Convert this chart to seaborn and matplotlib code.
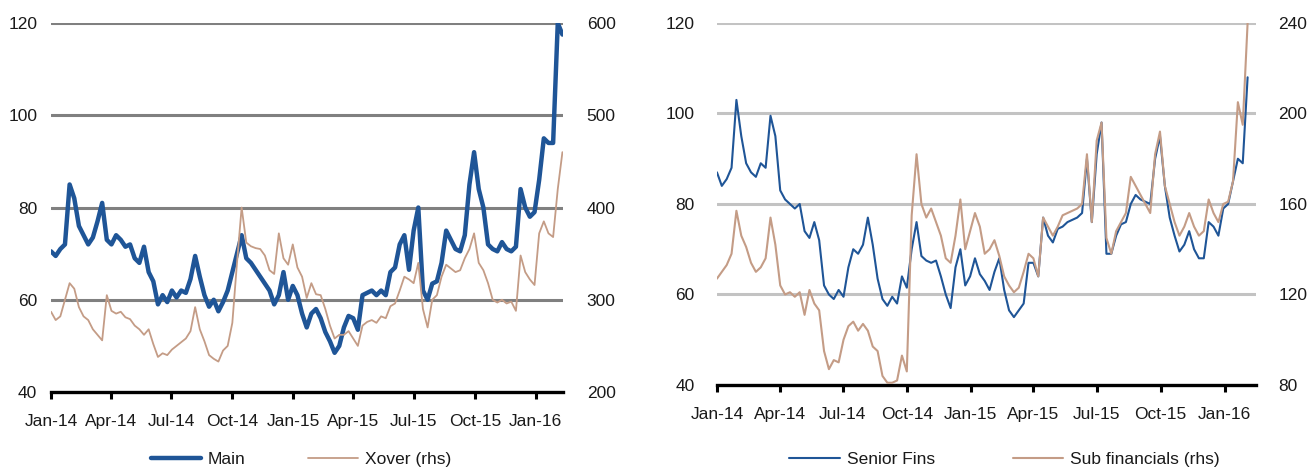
import matplotlib
matplotlib.use("Agg")
import matplotlib.pyplot as plt
import matplotlib.dates as mdates
import numpy as np
import pandas as pd
import seaborn as sns

# Weekly observations, Jan 2014 - Feb 2016
dates = pd.date_range("2014-01-01", periods=111, freq="7D")

# iTraxx Main (bp, lhs)
main = [70.5, 69.5, 71, 72, 85, 82, 76, 74, 72, 73.5, 77, 81, 73, 72, 74, 73,
        71.5, 72, 69, 68, 71.5, 66, 64, 59, 61, 59.5, 62, 60.5, 62, 61.5, 64.5, 69.5,
        65, 61, 58.5, 60, 57.5, 59.5, 62, 66, 70, 74, 69, 68, 66.5, 65, 63.5, 62,
        59, 61, 66, 60, 63, 61, 57, 54, 57, 58, 56, 53, 51, 48.5, 50, 54,
        56.5, 56, 53.5, 61, 61.5, 62, 61, 62, 61, 66, 67, 72, 74, 66.5, 75, 80,
        62, 60, 63.5, 64, 68, 75, 73, 71, 70.5, 74, 85, 92, 84, 80, 72, 71,
        70.5, 72.5, 71, 70.5, 71.5, 84, 80, 78, 79, 86, 95, 94, 94, 120, 117.5]

# iTraxx Crossover (bp, rhs)
xover = [287, 278, 282, 300, 318, 312, 292, 282, 278, 268, 262, 256, 305, 288, 285, 287,
         281, 279, 272, 268, 262, 268, 252, 238, 242, 240, 246, 250, 254, 258, 266, 292,
         268, 255, 240, 236, 233, 245, 250, 275, 340, 400, 362, 358, 356, 355, 348, 332,
         328, 372, 345, 338, 360, 335, 325, 302, 318, 306, 305, 290, 272, 258, 262, 262,
         266, 258, 250, 272, 276, 278, 275, 282, 280, 293, 296, 310, 325, 322, 318, 340,
         290, 270, 300, 305, 325, 338, 334, 330, 332, 345, 355, 372, 340, 332, 318, 300,
         297, 300, 296, 298, 288, 348, 330, 322, 316, 372, 385, 372, 368, 420, 460]

# Senior financials (bp, lhs)
senior = [87, 84, 85.5, 88, 103, 95, 89, 87, 86, 89, 88, 99.5, 95, 83, 81, 80,
          79, 80, 74, 72.5, 76, 72, 62, 60, 59, 61, 59.5, 66, 70, 69, 71, 77,
          71, 63.5, 59, 57.5, 59.5, 58, 64, 61.5, 70, 76, 68.5, 67.5, 67, 67.5, 64, 60,
          57, 66, 70, 62, 64, 68, 64.5, 63, 61, 65, 68, 61, 56.5, 55, 56.5, 58,
          67, 67, 64, 77, 73, 71.5, 74.5, 75, 76, 76.5, 77, 78, 90, 76, 91, 98,
          69, 69, 73, 75.5, 76, 80, 82, 81, 80.5, 80, 90, 95, 84, 77, 73, 69.5,
          71, 74, 70, 68, 68, 76, 75, 73, 79, 80, 85, 90, 89, 108]

# Subordinated financials (bp, rhs)
sub = [127, 130, 133, 138, 157, 146, 141, 134, 130, 132, 136, 154, 142, 124, 120, 121,
       119, 121, 111, 122, 116, 113, 95, 87, 91, 90, 100, 106, 108, 104, 107, 104,
       97, 95, 84, 81, 81, 82, 93, 86, 155, 182, 160, 154, 158, 152, 146, 136,
       134, 146, 162, 140, 148, 156, 150, 138, 140, 144, 137, 128, 124, 121, 123, 130,
       138, 136, 128, 154, 150, 146, 150, 155, 156, 157, 158, 160, 182, 152, 188, 196,
       145, 138, 148, 152, 156, 172, 168, 164, 160, 156, 182, 192, 168, 160, 152, 146,
       150, 156, 150, 146, 148, 162, 156, 152, 160, 161, 170, 205, 195, 240]

quarter_ticks = pd.date_range("2014-01-01", "2016-01-01", freq="QS")

sns.set_style("white")
plt.rcParams["font.family"] = ["Liberation Sans", "DejaVu Sans"]
plt.rcParams["font.size"] = 12.5

BLUE = "#1f5597"
TAN = "#c49c86"
TEXT = "#1a1a1a"

fig = plt.figure(figsize=(13.15, 4.71), dpi=100)
axL = fig.add_axes([0.0388, 0.1677, 0.3894, 0.7834])
axR = fig.add_axes([0.5452, 0.1826, 0.4099, 0.7686])


def style_panel(ax, ax2, ylim, yticks, ylim2, yticks2, grid_color, xend, lpad, rpad):
    ax.set_xlim(pd.Timestamp("2014-01-01"), pd.Timestamp(xend))
    ax.set_ylim(*ylim)
    ax.set_yticks(yticks)
    ax2.set_ylim(*ylim2)
    ax2.set_yticks(yticks2)
    for y in yticks[1:]:
        ax.axhline(y, color=grid_color, lw=2.2, zorder=0)
    for a in (ax, ax2):
        for s in ("top", "left", "right"):
            a.spines[s].set_visible(False)
        a.set_xlabel("")
        a.set_ylabel("")
    ax2.spines["bottom"].set_visible(False)
    ax.spines["bottom"].set_color("black")
    ax.spines["bottom"].set_linewidth(2.4)
    ax.set_xticks(quarter_ticks)
    ax.xaxis.set_major_formatter(mdates.DateFormatter("%b-%y"))
    ax.tick_params(axis="x", direction="out", length=5, width=2.2, color="black",
                   pad=11, labelcolor=TEXT, bottom=True)
    ax.tick_params(axis="y", length=0, pad=lpad, labelcolor=TEXT)
    ax2.tick_params(axis="y", length=0, pad=rpad, labelcolor=TEXT)


# Left panel: Main vs Crossover
axL2 = axL.twinx()
axL2.set_position(axL.get_position())
sns.lineplot(x=dates, y=main, ax=axL, color=BLUE, lw=3.2, label="Main", legend=False)
sns.lineplot(x=dates, y=xover, ax=axL2, color=TAN, lw=1.3, label="Xover (rhs)", legend=False)
style_panel(axL, axL2, (40, 120), [40, 60, 80, 100, 120], (200, 600),
            [200, 300, 400, 500, 600], "#808080", "2016-02-11", 10, 17)

# Right panel: Senior vs Subordinated financials
axR2 = axR.twinx()
axR2.set_position(axR.get_position())
sns.lineplot(x=dates[:len(senior)], y=senior, ax=axR, color=BLUE, lw=1.5,
             label="Senior Fins", legend=False)
sns.lineplot(x=dates[:len(sub)], y=sub, ax=axR2, color=TAN, lw=1.5,
             label="Sub financials (rhs)", legend=False)
style_panel(axR, axR2, (40, 120), [40, 60, 80, 100, 120], (80, 240),
            [80, 120, 160, 200, 240], "#c3c3c3", "2016-02-15", 16, 16)

for ax, ax2, cx, gap in ((axL, axL2, 0.229, 3.6), (axR, axR2, 0.764, 4.5)):
    h1, l1 = ax.get_legend_handles_labels()
    h2, l2 = ax2.get_legend_handles_labels()
    fig.legend(h1 + h2, l1 + l2, loc="center", bbox_to_anchor=(cx, 0.025), ncol=2,
               frameon=False, handlelength=2.9, handletextpad=0.4, columnspacing=gap,
               fontsize=12.5, labelcolor=TEXT)

fig.savefig("out.png", dpi=100)
